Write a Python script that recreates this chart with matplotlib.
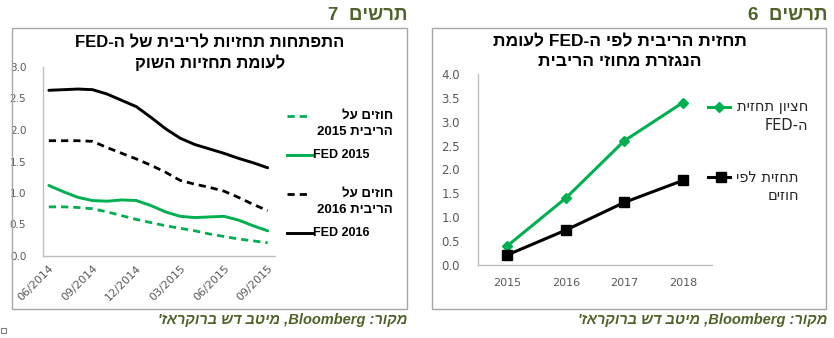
import re

import matplotlib
matplotlib.use('Agg')
import matplotlib.pyplot as plt
from matplotlib.lines import Line2D
from matplotlib.patches import Rectangle

W, H = 834, 338
GREEN = '#00b050'
OLIVE = '#4f6228'
GRID_GRAY = '#a6a6a6'
TICK_GRAY = '#595959'
HEB = ['Liberation Sans', 'DejaVu Sans']

# ---- chart 7 (left): monthly points, 06/2014 .. 09/2015
months = list(range(16))
quarter_ticks = [0, 3, 6, 9, 12, 15]
quarter_labels = ['06/2014', '09/2014', '12/2014', '03/2015', '06/2015', '09/2015']
fed_2016 = [2.63, 2.64, 2.65, 2.64, 2.57, 2.47, 2.37, 2.20, 2.02, 1.87,
            1.77, 1.70, 1.63, 1.55, 1.48, 1.40]
futures_2016 = [1.83, 1.83, 1.83, 1.82, 1.72, 1.63, 1.54, 1.44, 1.33, 1.20,
                1.14, 1.09, 1.03, 0.93, 0.82, 0.72]
fed_2015 = [1.12, 1.02, 0.93, 0.88, 0.87, 0.89, 0.88, 0.80, 0.70, 0.63,
            0.61, 0.62, 0.63, 0.57, 0.48, 0.40]
futures_2015 = [0.78, 0.78, 0.77, 0.75, 0.70, 0.64, 0.58, 0.53, 0.48, 0.44,
                0.40, 0.35, 0.31, 0.27, 0.24, 0.21]

# ---- chart 6 (right)
years = ['2015', '2016', '2017', '2018']
fed_median = [0.4, 1.4, 2.6, 3.4]
futures_path = [0.21, 0.73, 1.31, 1.77]


def vis(s):
    """Logical Hebrew -> visual order (matplotlib has no bidi)."""
    r = s[::-1]
    return re.sub(r'[A-Za-z0-9.]+', lambda m: m.group(0)[::-1], r)


def fx(x):
    return x / W


def fy(y):
    return 1 - y / H


def ax_rect(x0, y0, x1, y1):
    return [fx(x0), fy(y1), fx(x1) - fx(x0), fy(y0) - fy(y1)]


def style_axes(ax):
    for s in ('top', 'right'):
        ax.spines[s].set_visible(False)
    for s in ('left', 'bottom'):
        ax.spines[s].set_color('#bfbfbf')
        ax.spines[s].set_linewidth(1.0)
    ax.tick_params(length=0, colors=TICK_GRAY, labelsize=7.5)


def legend_line(fig, x0, x1, y, **kw):
    fig.add_artist(Line2D([fx(x0), fx(x1)], [fy(y), fy(y)],
                          transform=fig.transFigure, **kw))


def legend_marker(fig, x, y, **kw):
    fig.add_artist(Line2D([fx(x)], [fy(y)], transform=fig.transFigure,
                          lw=0, **kw))


def ftext(fig, x, y, s, **kw):
    kw.setdefault('family', HEB)
    fig.text(fx(x), fy(y), s, **kw)


fig = plt.figure(figsize=(W / 100, H / 100), dpi=100)

# frames
for x0, x1 in ((12, 407), (432, 826)):
    fig.add_artist(Rectangle((fx(x0), fy(309)), fx(x1) - fx(x0), fy(28) - fy(309),
                             transform=fig.transFigure, fill=False,
                             edgecolor=GRID_GRAY, lw=1.0))

# ---------------- left chart
ax = fig.add_axes(ax_rect(43, 67, 275, 256))
style_axes(ax)
ax.plot(months, fed_2016, color='black', lw=2.1, solid_capstyle='round')
ax.plot(months, futures_2016, color='black', lw=2.0, dashes=(2.6, 1.8))
ax.plot(months, fed_2015, color=GREEN, lw=2.1, solid_capstyle='round')
ax.plot(months, futures_2015, color=GREEN, lw=2.0, dashes=(2.6, 1.8))
ax.set_xlim(-0.4, 15.5)
ax.set_ylim(0, 3.0)
ax.set_yticks([0, 0.5, 1.0, 1.5, 2.0, 2.5, 3.0])
ax.set_yticklabels([f'{v:.1f}' for v in ax.get_yticks()])
ax.tick_params(axis='y', pad=12)
ax.set_xticks(quarter_ticks)
ax.set_xticklabels(quarter_labels, rotation=45, ha='right',
                   rotation_mode='anchor', fontsize=8)
ax.tick_params(axis='x', pad=5)

ftext(fig, 210, 43, vis('התפתחות תחזיות לריבית של ה-FED'), ha='center',
      va='center', fontsize=12, fontweight='bold')
ftext(fig, 210, 63, vis('לעומת תחזיות השוק'), ha='center', va='center',
      fontsize=12, fontweight='bold')

# legend, left chart
legend_line(fig, 287, 307, 116, color=GREEN, lw=2.0, dashes=(2.6, 1.8))
ftext(fig, 393, 116, vis('חוזים על'), ha='right', va='center', fontsize=9.5,
      fontweight='bold')
ftext(fig, 393, 132, vis('הריבית 2015'), ha='right', va='center',
      fontsize=9.5, fontweight='bold')
legend_line(fig, 287, 312, 155, color=GREEN, lw=2.1)
ftext(fig, 313, 155, 'FED 2015', ha='left', va='center', fontsize=9,
      fontweight='bold')
legend_line(fig, 287, 307, 194, color='black', lw=2.0, dashes=(2.6, 1.8))
ftext(fig, 393, 194, vis('חוזים על'), ha='right', va='center', fontsize=9.5,
      fontweight='bold')
ftext(fig, 393, 210, vis('הריבית 2016'), ha='right', va='center',
      fontsize=9.5, fontweight='bold')
legend_line(fig, 287, 312, 233, color='black', lw=2.1)
ftext(fig, 313, 233, 'FED 2016', ha='left', va='center', fontsize=9,
      fontweight='bold')

# ---------------- right chart
ax2 = fig.add_axes(ax_rect(478, 74, 712, 265))
style_axes(ax2)
xs = range(len(years))
ax2.plot(xs, fed_median, color=GREEN, lw=2.2, marker='D', ms=5)
ax2.plot(xs, futures_path, color='black', lw=2.2, marker='s', ms=6.5)
ax2.set_xlim(-0.5, 3.5)
ax2.set_ylim(0, 4.0)
ax2.set_yticks([0, 0.5, 1.0, 1.5, 2.0, 2.5, 3.0, 3.5, 4.0])
ax2.set_yticklabels([f'{v:.1f}' for v in ax2.get_yticks()])
ax2.tick_params(axis='y', pad=13, labelsize=8.5)
ax2.set_xticks(list(xs))
ax2.set_xticklabels(years)
ax2.tick_params(axis='x', pad=9, labelsize=8)

ftext(fig, 620, 42, vis('תחזית הריבית לפי ה-FED לעומת'), ha='center',
      va='center', fontsize=12.5, fontweight='bold')
ftext(fig, 620, 62, vis('הנגזרת מחוזי הריבית'), ha='center', va='center',
      fontsize=12.5, fontweight='bold')

legend_line(fig, 708, 730, 107, color=GREEN, lw=2.2)
legend_marker(fig, 719, 107, color=GREEN, marker='D', ms=5)
ftext(fig, 808, 107, vis('חציון תחזית'), ha='right', va='center',
      fontsize=10.5, color='#262626', family=['DejaVu Sans'])
ftext(fig, 808, 125, vis('ה-FED'), ha='right', va='center', fontsize=10.5,
      color='#262626', family=['DejaVu Sans'])
legend_line(fig, 708, 730, 177, color='black', lw=2.2)
legend_marker(fig, 721, 177, color='black', marker='s', ms=6.5)
ftext(fig, 799, 177, vis('תחזית לפי'), ha='right', va='center',
      fontsize=10.5, color='#262626', family=['DejaVu Sans'])
ftext(fig, 799, 196, vis('חוזים'), ha='right', va='center', fontsize=10.5,
      color='#262626', family=['DejaVu Sans'])

# headers and sources
for right_edge, num in ((407, '7'), (827, '6')):
    ftext(fig, right_edge, 15, vis('תרשים  ' + num), ha='right', va='center',
          fontsize=13.5, fontweight='bold', color=OLIVE)
    ftext(fig, right_edge, 320, vis("מקור: Bloomberg, מיטב דש ברוקראז'"),
          ha='right', va='center', fontsize=10.5, fontweight='bold',
          style='italic', color=OLIVE)

fig.add_artist(Rectangle((fx(1), fy(333)), fx(5), fy(328) - fy(333),
                         transform=fig.transFigure, fill=False,
                         edgecolor='#7f7f7f', lw=0.8))

fig.savefig('out.png', dpi=100)
